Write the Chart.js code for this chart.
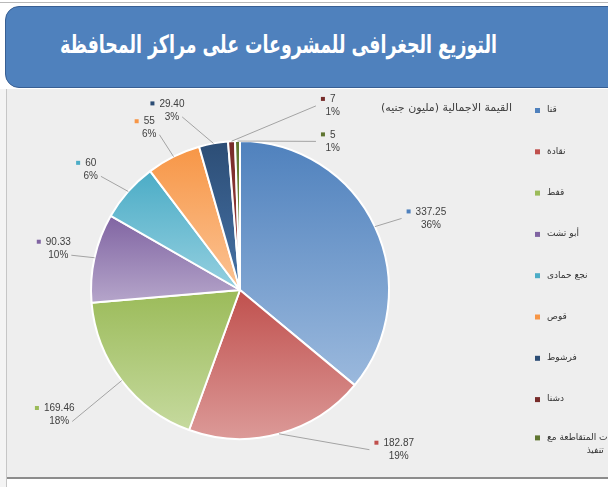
<!DOCTYPE html>
<html lang="ar">
<head>
<meta charset="utf-8">
<script src="https://cdn.jsdelivr.net/npm/chart.js@4/dist/chart.umd.min.js"></script>
<style>
  html, body { margin: 0; padding: 0; width: 608px; height: 487px; overflow: hidden; background: #fff; }
  #topline { position: absolute; left: 0; top: 2px; width: 608px; height: 1px; background: #b9b9b9; }
  #header { position: absolute; left: 5px; top: 6px; width: 640px; height: 82px; box-sizing: border-box;
            background: #4f81bd; border: 1px solid #385f93; border-radius: 14px; }
  #title { position: absolute; left: 54px; top: 23px; line-height: 30px; direction: rtl; white-space: nowrap;
           font: bold 25px "DejaVu Sans", sans-serif; color: #fff; transform-origin: 0 50%; }
  #strip { position: absolute; left: 0; top: 89px; width: 6px; height: 398px; background: #f4f4f4; border-right: 1px solid #c6c6c6; }
  #panel { position: absolute; left: 7px; top: 89px; width: 601px; height: 388px; background: #eeeeee; }
  #bottomline { position: absolute; left: 7px; top: 477px; width: 601px; height: 2px; background: #8c8c8c; }
  #wrap { position: absolute; left: 0; top: 90px; width: 608px; height: 387px; }
</style>
</head>
<body>
<div id="topline"></div>
<div id="header"><div id="title">التوزيع الجغرافى للمشروعات على مراكز المحافظة</div></div>
<div id="strip"></div>
<div id="panel"></div>
<div id="bottomline"></div>
<div id="wrap"><canvas id="pieCanvas" width="608" height="387"></canvas></div>
<script>
// بيانات الرسم
const seriesName = 'القيمة الاجمالية (مليون جنيه)';
const centers = ['قنا', 'نقادة', 'قفط', 'أبو تشت', 'نجع حمادى', 'قوص', 'فرشوط', 'دشنا',
                 ['المشروعات المتقاطعة مع', 'تنفيذ']];
const values = [337.25, 182.87, 169.46, 90.33, 60, 55, 29.40, 7, 5];
const percentLabels = ['36%', '19%', '18%', '10%', '6%', '6%', '3%', '1%', '1%'];

// ألوان الشرائح (أعلى / أسفل التدرج)
const baseColors  = ['#4f81bd', '#c0504d', '#9bbb59', '#8064a2', '#4bacc6', '#f79646', '#2c4d75', '#772c2a', '#5f7530'];
const lightColors = ['#9bb9dd', '#dc9a98', '#c6da9f', '#b5a5ca', '#95d0e0', '#fbc394', '#4672a6', '#a0403d', '#809c45'];

// مواقع بطاقات القيم: زاوية (درجة من الأعلى مع عقارب الساعة) ومسافة بنسبة نصف القطر
const labelAngle = [69, 136, 236, 282.5, 308, 329.5, 338, 25.6, 30.7];
const labelDist  = [1.34, 1.49, 1.50, 1.28, 1.31, 1.26, 1.30, 1.37, 1.16];

const fmt = v => Number.isInteger(v) ? String(v) : v.toFixed(2);

// ضغط العنوان أفقيا ليأخذ العرض المطلوب
const titleEl = document.getElementById('title');
titleEl.style.transform = 'scaleX(' + (437 / titleEl.offsetWidth) + ')';

// تدرج رأسي لكل شريحة حسب حدودها
function sliceGradient(context) {
  const chart = context.chart, area = chart.chartArea, i = context.dataIndex;
  if (!area || i === undefined) return baseColors[i] || baseColors[0];
  const data = context.dataset.data;
  const total = data.reduce((a, b) => a + b, 0);
  const cx = (area.left + area.right) / 2, cy = (area.top + area.bottom) / 2;
  const r = Math.min(area.width, area.height) / 2;
  let cum = 0;
  for (let k = 0; k < i; k++) cum += data[k];
  const a0 = -Math.PI / 2 + cum / total * 2 * Math.PI;
  const a1 = a0 + data[i] / total * 2 * Math.PI;
  const ys = [cy, cy + r * Math.sin(a0), cy + r * Math.sin(a1)];
  if (a0 <= -Math.PI / 2 + 1e-6 || a1 >= 3 * Math.PI / 2 - 1e-6) ys.push(cy - r);
  if (a0 <= Math.PI / 2 && a1 >= Math.PI / 2) ys.push(cy + r);
  const g = chart.ctx.createLinearGradient(0, Math.min(...ys), 0, Math.max(...ys));
  g.addColorStop(0, baseColors[i]);
  g.addColorStop(1, lightColors[i]);
  return g;
}

// بطاقات القيم وخطوط الربط ومفتاح الرسم
const pieDecor = {
  id: 'pieDecor',
  afterDatasetsDraw(chart) {
    const ctx = chart.ctx;
    const meta = chart.getDatasetMeta(0);
    ctx.save();
    ctx.font = '10px "Liberation Sans", Arial, sans-serif';
    ctx.textBaseline = 'middle';
    meta.data.forEach((arc, i) => {
      const { x, y, startAngle, endAngle, outerRadius: r } =
        arc.getProps(['x', 'y', 'startAngle', 'endAngle', 'outerRadius'], true);
      const mid = (startAngle + endAngle) / 2;
      const ex = x + Math.cos(mid) * r, ey = y + Math.sin(mid) * r;
      const la = (labelAngle[i] - 90) * Math.PI / 180;
      const cx = x + Math.cos(la) * labelDist[i] * r;
      const cy = y + Math.sin(la) * labelDist[i] * r;
      const v = fmt(chart.data.datasets[0].data[i]), p = percentLabels[i];
      const vw = ctx.measureText(v).width, pw = ctx.measureText(p).width;
      const left = cx - (9 + vw) / 2, tx = left + 9;
      const vy = cy - 6.5, py = cy + 6.5;
      let lx, ly;
      if (cx > x) { lx = left - 5; ly = cy; } else { lx = tx + vw / 2 + pw / 2 + 3; ly = py; }
      ctx.strokeStyle = '#a3a3a3';
      ctx.lineWidth = 1;
      ctx.beginPath(); ctx.moveTo(ex, ey); ctx.lineTo(lx, ly); ctx.stroke();
      ctx.fillStyle = baseColors[i];
      ctx.fillRect(left, vy - 2.5, 4, 4);
      ctx.fillStyle = '#404040';
      ctx.textAlign = 'left';
      ctx.fillText(v, tx, vy);
      ctx.textAlign = 'center';
      ctx.fillText(p, tx + vw / 2, py);
    });

    // عنوان السلسلة
    ctx.direction = 'rtl';
    ctx.font = '11px "DejaVu Sans", sans-serif';
    ctx.fillStyle = '#404040';
    ctx.textAlign = 'right';
    ctx.fillText(chart.data.datasets[0].label, 512, 18);

    // المفتاح
    ctx.font = '9px "DejaVu Sans", sans-serif';
    chart.data.labels.forEach((lab, i) => {
      const lines = Array.isArray(lab) ? lab : [lab];
      const yy = 20 + i * 41.3 - (lines.length - 1) * 3;
      ctx.fillStyle = baseColors[i];
      ctx.fillRect(535, yy - 2, 5, 5);
      ctx.fillStyle = '#333';
      const bw = Math.max(...lines.map(s => ctx.measureText(s).width));
      ctx.textAlign = 'center';
      lines.forEach((s, k) => ctx.fillText(s, 547 + bw / 2, yy + k * 13));
    });
    ctx.restore();
  }
};

new Chart(document.getElementById('pieCanvas'), {
  type: 'pie',
  data: {
    labels: centers,
    datasets: [{
      label: seriesName,
      data: values,
      backgroundColor: sliceGradient,
      borderColor: '#ffffff',
      borderWidth: 2,
      hoverOffset: 0
    }]
  },
  options: {
    responsive: false,
    animation: false,
    layout: { padding: { left: 90, right: 218, top: 50, bottom: 37 } },
    plugins: { legend: { display: false }, tooltip: { enabled: false } }
  },
  plugins: [pieDecor]
});
</script>
</body>
</html>
